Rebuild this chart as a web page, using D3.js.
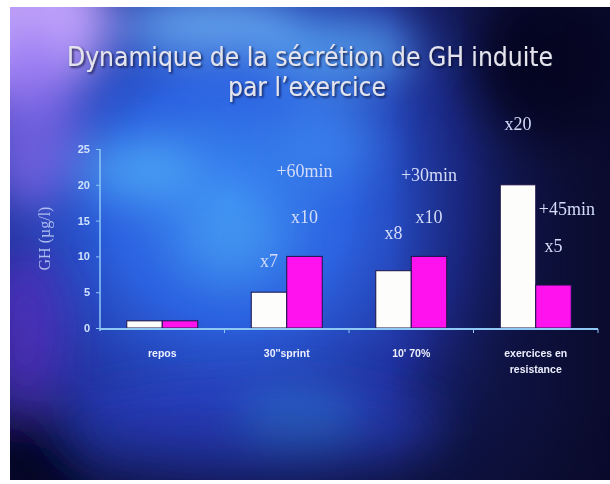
<!DOCTYPE html>
<html>
<meta charset="utf-8">
<head>
<style>
body { margin: 0; background: #fff; }
.tick-lbl { font: bold 11px "Liberation Sans", Arial, sans-serif; fill: #cfe2ff; }
.cat { font: bold 10.5px "Liberation Sans", Arial, sans-serif; fill: #eef0ff; text-anchor: middle; }
.note { font: 18px "Liberation Serif", "Times New Roman", serif; fill: #d4dcfa; }
</style>
<script src="https://d3js.org/d3.v7.min.js"></script>
</head>
<body>
<svg width="610" height="484"></svg>
<script>
// data
var categories = ["repos", "30''sprint", "10' 70%", "exercices en\nresistance"];
var seriesNames = ["avant", "apres"];
var avant = [1, 5, 8, 20];
var apres = [1, 10, 10, 6];
var yTicks = [0, 5, 10, 15, 20, 25];

// annotations : texte, categorie, serie, niveau (µg/l)
var noteText   = ["+60min", "x10", "x7", "+30min", "x8", "x10", "x20", "+45min", "x5"];
var noteCat    = [1, 1, 1, 2, 2, 2, 3, 3, 3];
var noteSerie  = [1, 1, 0, 1, 0, 1, 0, 1, 1];
var noteLevel  = [21.1, 14.7, 8.5, 20.5, 12.4, 14.7, 27.7, 15.8, 10.6];

var svg = d3.select("svg");
var defs = svg.append("defs");

// ---- background (slide) ----
var blur = defs.append("filter").attr("id", "blur")
    .attr("x", "-50%").attr("y", "-50%").attr("width", "200%").attr("height", "200%");
blur.append("feGaussianBlur").attr("stdDeviation", 22);

var rg = defs.append("radialGradient").attr("id", "glow")
    .attr("cx", 230).attr("cy", 200).attr("r", 340).attr("gradientUnits", "userSpaceOnUse");
rg.append("stop").attr("offset", 0).attr("stop-color", "#3b8af2");
rg.append("stop").attr("offset", 0.35).attr("stop-color", "#2c62e0");
rg.append("stop").attr("offset", 0.7).attr("stop-color", "#2234a8").attr("stop-opacity", 0.85);
rg.append("stop").attr("offset", 1).attr("stop-color", "#1a2070").attr("stop-opacity", 0);

var dark = defs.append("linearGradient").attr("id", "dark")
    .attr("x1", 390).attr("x2", 610).attr("y1", 0).attr("y2", 0).attr("gradientUnits", "userSpaceOnUse");
dark.append("stop").attr("offset", 0).attr("stop-color", "#080826").attr("stop-opacity", 0);
dark.append("stop").attr("offset", 1).attr("stop-color", "#080826").attr("stop-opacity", 0.85);

var darkB = defs.append("linearGradient").attr("id", "darkB")
    .attr("x1", 0).attr("x2", 0).attr("y1", 400).attr("y2", 480).attr("gradientUnits", "userSpaceOnUse");
darkB.append("stop").attr("offset", 0).attr("stop-color", "#080826").attr("stop-opacity", 0);
darkB.append("stop").attr("offset", 1).attr("stop-color", "#080826").attr("stop-opacity", 0.35);

var clip = defs.append("clipPath").attr("id", "slide");
clip.append("rect").attr("x", 10).attr("y", 7).attr("width", 600).attr("height", 473);

var bg = svg.append("g").attr("clip-path", "url(#slide)");
bg.append("rect").attr("x", 10).attr("y", 7).attr("width", 600).attr("height", 473).attr("fill", "#141c58");
bg.append("rect").attr("x", 10).attr("y", 7).attr("width", 600).attr("height", 473).attr("fill", "url(#glow)");

var blobs = bg.append("g").attr("filter", "url(#blur)");
var blobData = [
  [20, 20, 90, 80, "#c6a6ff", 0.95],
  [30, 120, 50, 90, "#8a6cf0", 0.7],
  [25, 330, 40, 80, "#5a2cc0", 0.7],
  [210, 25, 90, 30, "#7cc8ff", 0.7],
  [340, 50, 80, 35, "#66c0ff", 0.6],
  [140, 170, 60, 30, "#5cc8ff", 0.55],
  [230, 240, 50, 40, "#4aa8f4", 0.5],
  [330, 140, 50, 40, "#4aa0f4", 0.4],
  [250, 430, 200, 45, "#2840c4", 0.7],
  [300, 420, 60, 30, "#2e8ad0", 0.45],
  [560, 60, 80, 80, "#05051a", 0.9],
  [30, 470, 60, 50, "#05051a", 0.8]
];
blobs.selectAll("ellipse").data(blobData).enter().append("ellipse")
    .attr("cx", function(d) { return d[0]; })
    .attr("cy", function(d) { return d[1]; })
    .attr("rx", function(d) { return d[2]; })
    .attr("ry", function(d) { return d[3]; })
    .attr("fill", function(d) { return d[4]; })
    .attr("opacity", function(d) { return d[5]; });
bg.append("rect").attr("x", 10).attr("y", 7).attr("width", 600).attr("height", 473).attr("fill", "url(#dark)");
bg.append("rect").attr("x", 10).attr("y", 7).attr("width", 600).attr("height", 473).attr("fill", "url(#darkB)");

// ---- title ----
var shadow = defs.append("filter").attr("id", "shadow");
shadow.append("feDropShadow").attr("dx", 1.5).attr("dy", 1.5).attr("stdDeviation", 1)
    .attr("flood-color", "#101030").attr("flood-opacity", 0.8);

var title = svg.append("g").attr("filter", "url(#shadow)")
    .style("font", "26px 'DejaVu Sans Condensed', 'DejaVu Sans', sans-serif")
    .attr("fill", "#e4e4ee").attr("text-anchor", "middle");
title.append("text").attr("x", 310).attr("y", 66)
    .attr("textLength", 486).attr("lengthAdjust", "spacingAndGlyphs")
    .text("Dynamique de la sécrétion de GH induite");
title.append("text").attr("x", 307).attr("y", 96)
    .attr("textLength", 158).attr("lengthAdjust", "spacingAndGlyphs")
    .text("par l’exercice");

// ---- scales ----
var x0 = d3.scaleBand().domain(d3.range(categories.length))
    .range([100, 598]).paddingInner(0.43).paddingOuter(0.215);
var x1 = d3.scaleBand().domain(d3.range(seriesNames.length)).range([0, x0.bandwidth()]);
var y = d3.scaleLinear().domain([0, 25]).range([328, 149]);
var color = d3.scaleOrdinal().domain([0, 1]).range(["#fdfdfb", "#ff12ee"]);

var axisCol = "#8ec8f4";

// y axis
var yAxis = svg.append("g").attr("transform", "translate(100,0)")
    .call(d3.axisLeft(y).tickValues(yTicks).tickSize(4).tickPadding(6));
yAxis.select(".domain").attr("stroke", axisCol).attr("stroke-width", 1.5).attr("d", "M0," + y(25) + "V" + (y(0) + 3));
yAxis.selectAll(".tick line").attr("stroke", axisCol);
yAxis.selectAll(".tick text").attr("class", "tick-lbl").attr("fill", null);

svg.append("text")
    .attr("transform", "translate(50," + y(12.5) + ") rotate(-90)")
    .attr("text-anchor", "middle")
    .style("font", "16px 'Liberation Serif', serif")
    .attr("fill", "#c4d2fa").attr("opacity", 0.85)
    .text("GH (µg/l)");

// bars
var groups = svg.selectAll(".grp").data(categories).enter().append("g")
    .attr("class", "grp")
    .attr("transform", function(d, i) { return "translate(" + x0(i) + ",0)"; });

groups.selectAll("rect")
    .data(function(d, i) { return [avant[i], apres[i]]; })
    .enter().append("rect")
    .attr("x", function(d, j) { return x1(j); })
    .attr("y", function(d) { return y(d); })
    .attr("width", x1.bandwidth())
    .attr("height", function(d) { return y(0) - y(d); })
    .attr("fill", function(d, j) { return color(j); })
    .attr("stroke", "#1c1248").attr("stroke-width", 1);

// x axis line + ticks at group boundaries
svg.append("line").attr("x1", 100).attr("x2", 598).attr("y1", y(0) + 1).attr("y2", y(0) + 1)
    .attr("stroke", axisCol).attr("stroke-width", 2);
svg.selectAll(".xt").data(d3.range(1, categories.length + 1)).enter().append("line")
    .attr("x1", function(i) { return 100 + i * x0.step(); })
    .attr("x2", function(i) { return 100 + i * x0.step(); })
    .attr("y1", y(0) + 1).attr("y2", y(0) + 5)
    .attr("stroke", axisCol);

// category labels
svg.selectAll(".cat").data(categories).enter().append("text")
    .attr("class", "cat")
    .attr("y", 357)
    .each(function(d, i) {
      var t = d3.select(this);
      d.split("\n").forEach(function(line, k) {
        t.append("tspan").attr("x", x0(i) + x0.bandwidth() / 2).attr("dy", k ? 16 : 0).text(line);
      });
    });

// annotations
svg.selectAll(".note").data(noteText).enter().append("text")
    .attr("class", "note")
    .attr("x", function(d, i) {
      var left = x0(noteCat[i]) + x1(noteSerie[i]);
      return d === "+45min" ? left + 3 : left + x1.bandwidth() / 2;
    })
    .style("text-anchor", function(d) { return d === "+45min" ? "start" : "middle"; })
    .attr("y", function(d, i) { return y(noteLevel[i]); })
    .text(function(d) { return d; });
</script>
</body>
</html>
